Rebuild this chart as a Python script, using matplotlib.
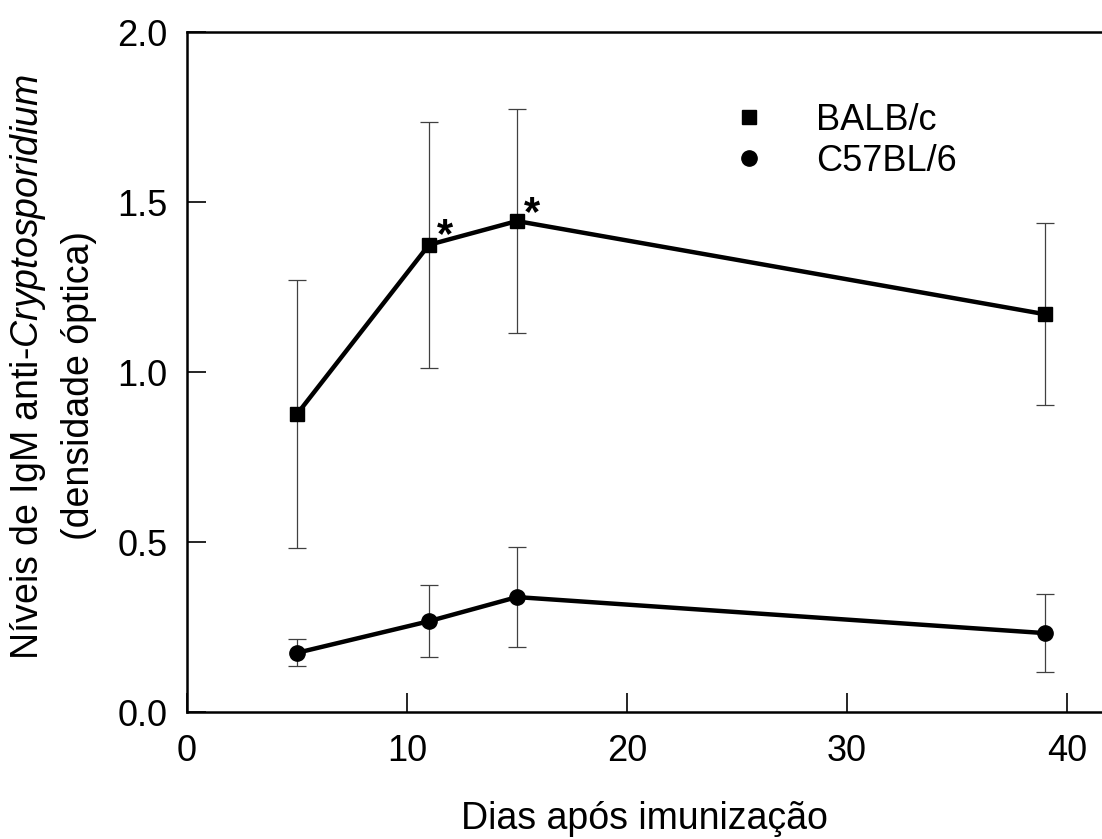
import matplotlib
matplotlib.use("Agg")
import matplotlib.pyplot as plt
from matplotlib.lines import Line2D

plt.rcParams['font.family'] = ['Liberation Sans', 'DejaVu Sans']
plt.rcParams['mathtext.fontset'] = 'custom'
plt.rcParams['mathtext.rm'] = 'Liberation Sans'
plt.rcParams['mathtext.it'] = 'Liberation Sans:italic'

# dias apos imunizacao
days = [5, 11, 15, 39]

balb_mean = [0.876, 1.374, 1.444, 1.170]
balb_err = [0.395, 0.362, 0.330, 0.267]

c57_mean = [0.174, 0.267, 0.338, 0.232]
c57_err = [0.040, 0.106, 0.148, 0.114]

# asteriscos (diferenca significativa)
star_x = [11.75, 15.7]
star_y = [1.40, 1.465]

x_ticks = [0, 10, 20, 30, 40]
y_ticks = [0.0, 0.5, 1.0, 1.5, 2.0]

fig = plt.figure(figsize=(11.02, 8.39), dpi=100)
ax = fig.add_axes([187 / 1102, 1 - 712 / 839, (1102 - 187) / 1102, 680 / 839])

err_kw = dict(ecolor='0.25', elinewidth=0.9, capsize=6.5, capthick=0.9, zorder=2)
ax.errorbar(days, balb_mean, yerr=balb_err, fmt='none', **err_kw)
ax.errorbar(days, c57_mean, yerr=c57_err, fmt='none', **err_kw)

ax.plot(days, balb_mean, color='black', lw=3.2, marker='s', ms=9.5, zorder=3)
ax.plot(days, c57_mean, color='black', lw=3.2, marker='o', ms=11, zorder=3)

for sx, sy in zip(star_x, star_y):
    ax.text(sx, sy, '*', fontsize=30, fontweight='bold', ha='center', va='center')

ax.set_xlim(0, 41.6)
ax.set_ylim(0, 2.0)
ax.set_xticks(x_ticks)
ax.set_yticks(y_ticks)
ax.set_yticklabels([f'{v:.1f}' for v in y_ticks])

ax.tick_params(axis='both', direction='in', length=13.5, width=1.2, labelsize=26)
ax.tick_params(axis='y', pad=14)
ax.tick_params(axis='x', pad=16)
ax.tick_params(top=False, right=False)

for side in ['left', 'top', 'bottom']:
    ax.spines[side].set_linewidth(1.8)
ax.spines['right'].set_visible(False)

ax.set_xlabel('Dias após imunização', fontsize=27, labelpad=23)

fig.text(28.5 / 1102, 1 - 367 / 839, r'Níveis de IgM anti-$\it{Cryptosporidium}$',
         rotation=90, fontsize=27, ha='center', va='center')
fig.text(79.5 / 1102, 1 - 386 / 839, '(densidade óptica)',
         rotation=90, fontsize=27, ha='center', va='center')

handles = [
    Line2D([], [], color='black', marker='s', ms=9.5, ls='none'),
    Line2D([], [], color='black', marker='o', ms=11, ls='none'),
]
ax.legend(handles, ['BALB/c', 'C57BL/6'], loc='center left',
          bbox_to_anchor=(0.595, 0.84), frameon=False, fontsize=26,
          handlelength=1.0, handletextpad=1.35, borderpad=0, borderaxespad=0,
          labelspacing=0.15, numpoints=1)

fig.savefig('out.png', dpi=100)
